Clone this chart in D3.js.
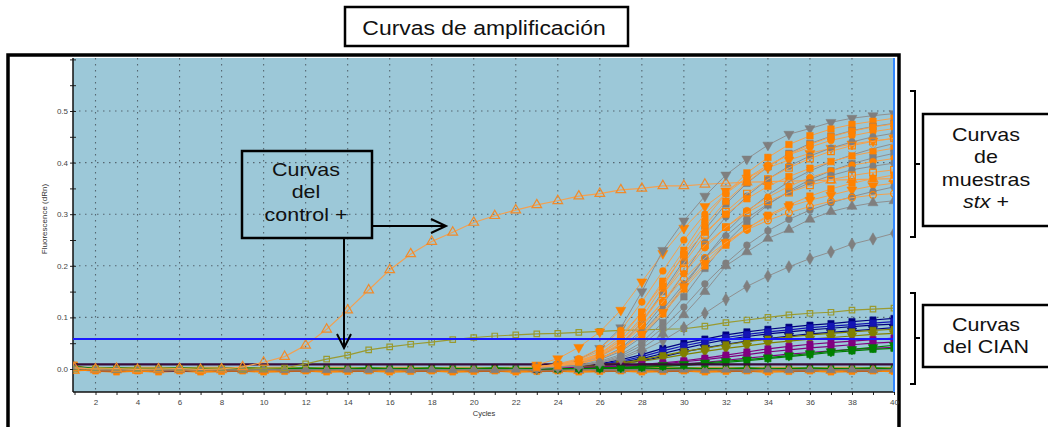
<!DOCTYPE html>
<html>
<head>
<meta charset="utf-8">
<script src="https://cdn.jsdelivr.net/npm/d3@7"></script>
<style>
  body { margin: 0; background: #fff; }
  svg { display: block; font-family: Arial, "Liberation Sans", sans-serif; }
</style>
</head>
<body>
<svg id="chart" width="1048" height="427"></svg>
<script>
// ---- data ----
const cycles = [1,2,3,4,5,6,7,8,9,10,11,12,13,14,15,16,17,18,19,20,
                21,22,23,24,25,26,27,28,29,30,31,32,33,34,35,36,37,38,39,40];
const riseCycles = [23,24,25,26,27,28,29,30,31,32,33,34,35,36,37,38,39,40];
const xTickLabels = [2,4,6,8,10,12,14,16,18,20,22,24,26,28,30,32,34,36,38,40];
const yTickValues = [0,0.05,0.1,0.15,0.2,0.25,0.3,0.35,0.4,0.45,0.5,0.55,0.6];
const yTickLabels = [0,0.1,0.2,0.3,0.4,0.5];
const thresholdValue = 0.058;

// positive control (full run)
const controlTriangle = [0.002,0.000,0.001,-0.001,0.000,0.001,-0.001,0.000,0.004,0.013,
                         0.024,0.046,0.077,0.114,0.153,0.192,0.223,0.247,0.265,0.284,
                         0.297,0.308,0.318,0.326,0.335,0.340,0.347,0.350,0.355,0.355,
                         0.358,0.360,0.362,0.363,0.364,0.365,0.366,0.367,0.368,0.369];
const controlSquare = [0.000,0.001,0.000,0.001,0.000,0.001,0.000,0.001,0.000,0.001,
                       0.002,0.010,0.019,0.027,0.037,0.043,0.048,0.052,0.057,0.061,
                       0.064,0.066,0.068,0.069,0.071,0.073,0.075,0.076,0.077,0.078,
                       0.083,0.090,0.095,0.100,0.105,0.108,0.110,0.114,0.116,0.118];

// stx+ sample curves, cycles 23..40
const stxCurves = [
  [0.008,0.020,0.042,0.072,0.114,0.169,0.224,0.273,0.315,0.345,0.370,0.390,0.405,0.418,0.428,0.436,0.442,0.447],
  [0.004,0.008,0.018,0.040,0.080,0.150,0.230,0.287,0.335,0.376,0.407,0.434,0.455,0.466,0.478,0.486,0.491,0.495],
  [0.004,0.008,0.016,0.030,0.060,0.110,0.170,0.230,0.290,0.340,0.380,0.410,0.435,0.452,0.465,0.474,0.480,0.486],
  [0.003,0.006,0.012,0.024,0.048,0.090,0.150,0.210,0.270,0.320,0.360,0.392,0.418,0.437,0.451,0.462,0.470,0.476],
  [0.004,0.010,0.020,0.040,0.075,0.130,0.190,0.250,0.300,0.340,0.370,0.395,0.415,0.430,0.443,0.452,0.460,0.466],
  [0.003,0.006,0.011,0.020,0.040,0.075,0.125,0.185,0.245,0.295,0.335,0.368,0.393,0.413,0.428,0.440,0.450,0.457],
  [0.003,0.007,0.014,0.027,0.050,0.090,0.145,0.205,0.260,0.305,0.340,0.368,0.390,0.408,0.422,0.433,0.441,0.447],
  [0.002,0.005,0.010,0.018,0.034,0.062,0.105,0.160,0.215,0.265,0.305,0.337,0.363,0.384,0.401,0.415,0.427,0.437],
  [0.004,0.009,0.018,0.035,0.065,0.110,0.165,0.220,0.265,0.300,0.330,0.354,0.373,0.389,0.402,0.413,0.421,0.428],
  [0.002,0.004,0.008,0.015,0.028,0.052,0.090,0.140,0.195,0.245,0.285,0.318,0.345,0.367,0.384,0.398,0.409,0.418],
  [0.003,0.006,0.012,0.024,0.045,0.082,0.130,0.185,0.235,0.275,0.307,0.333,0.354,0.371,0.384,0.395,0.402,0.408],
  [0.002,0.005,0.010,0.020,0.038,0.070,0.115,0.165,0.215,0.258,0.292,0.320,0.343,0.361,0.375,0.386,0.393,0.399],
  [0.003,0.007,0.015,0.030,0.055,0.095,0.145,0.195,0.240,0.275,0.303,0.325,0.342,0.356,0.367,0.375,0.381,0.386],
  [0.002,0.005,0.010,0.020,0.037,0.066,0.107,0.155,0.200,0.240,0.272,0.298,0.318,0.335,0.349,0.360,0.369,0.376],
  [0.002,0.005,0.010,0.020,0.038,0.068,0.110,0.160,0.205,0.245,0.273,0.295,0.315,0.327,0.337,0.347,0.355,0.360],
  [0.002,0.004,0.007,0.013,0.025,0.046,0.080,0.120,0.165,0.205,0.240,0.268,0.290,0.308,0.322,0.334,0.344,0.353],
  [0.003,0.006,0.013,0.026,0.048,0.085,0.130,0.175,0.215,0.245,0.270,0.288,0.303,0.315,0.325,0.332,0.337,0.340],
  [0.002,0.004,0.007,0.012,0.022,0.040,0.068,0.105,0.150,0.200,0.227,0.253,0.270,0.290,0.305,0.315,0.322,0.326],
  [0.001,0.003,0.006,0.012,0.020,0.035,0.055,0.080,0.108,0.135,0.160,0.180,0.198,0.214,0.227,0.242,0.252,0.263],
  [0.003,0.006,0.013,0.028,0.055,0.100,0.160,0.222,0.278,0.325,0.362,0.392,0.416,0.435,0.450,0.461,0.469,0.475]
];

// CIAN (internal control) curves, cycles 23..40
const cianCurves = [
  [0.003,0.004,0.006,0.010,0.018,0.028,0.040,0.050,0.058,0.066,0.072,0.077,0.081,0.085,0.088,0.092,0.095,0.098],
  [0.002,0.003,0.005,0.008,0.013,0.020,0.030,0.040,0.049,0.057,0.063,0.068,0.072,0.076,0.079,0.082,0.085,0.087],
  [0.002,0.003,0.004,0.006,0.010,0.016,0.024,0.033,0.041,0.048,0.054,0.059,0.064,0.068,0.071,0.074,0.077,0.080],
  [0.002,0.003,0.005,0.009,0.015,0.024,0.035,0.045,0.053,0.061,0.067,0.072,0.076,0.080,0.083,0.086,0.089,0.092],
  [0.002,0.003,0.005,0.008,0.012,0.018,0.026,0.034,0.040,0.047,0.053,0.058,0.062,0.066,0.069,0.072,0.075,0.077],
  [0.001,0.002,0.004,0.006,0.010,0.015,0.021,0.028,0.034,0.040,0.045,0.050,0.054,0.058,0.061,0.064,0.067,0.069],
  [0.000,0.001,0.002,0.003,0.005,0.007,0.010,0.014,0.018,0.023,0.028,0.033,0.037,0.041,0.044,0.047,0.050,0.052],
  [0.001,0.002,0.003,0.004,0.006,0.009,0.012,0.016,0.021,0.027,0.033,0.039,0.044,0.048,0.051,0.054,0.057,0.060],
  [0.000,0.001,0.001,0.002,0.003,0.005,0.007,0.010,0.013,0.017,0.021,0.025,0.029,0.032,0.035,0.038,0.040,0.042],
  [0.000,0.001,0.001,0.002,0.003,0.005,0.007,0.009,0.012,0.015,0.018,0.022,0.026,0.030,0.034,0.038,0.042,0.046],
  [0.000,0.000,0.001,0.001,0.002,0.003,0.005,0.007,0.010,0.013,0.016,0.020,0.024,0.028,0.032,0.035,0.038,0.040]
];

// flat (negative / baseline) curves, full run
const flatCurves = [
  [0.008,-0.004,-0.006,-0.004,-0.006,-0.004,-0.006,-0.005,-0.004,-0.006,-0.005,-0.004,-0.006,-0.005,-0.004,-0.006,-0.005,-0.004,-0.006,-0.005,
   -0.004,-0.006,-0.005,-0.004,-0.006,-0.005,-0.004,-0.006,-0.005,-0.004,-0.006,-0.005,-0.004,-0.006,-0.005,-0.004,-0.006,-0.005,-0.004,-0.005],
  [-0.002,-0.003,-0.003,-0.002,-0.003,-0.004,-0.002,-0.003,-0.003,-0.002,-0.003,-0.003,-0.002,-0.003,-0.003,-0.002,-0.003,-0.003,-0.002,-0.003,
   -0.003,-0.002,-0.003,-0.003,-0.002,-0.003,-0.003,-0.002,-0.003,-0.003,-0.002,-0.003,-0.003,-0.002,-0.003,-0.003,-0.002,-0.003,-0.003,-0.002],
  [0.004,0.000,0.001,0.000,-0.001,0.000,0.001,0.000,-0.001,0.000,0.001,0.000,-0.001,0.000,0.001,0.000,-0.001,0.000,0.001,0.000,
   -0.001,0.000,0.001,0.000,-0.001,0.000,0.001,0.000,-0.001,0.000,0.001,0.000,-0.001,0.000,0.001,0.000,-0.001,0.000,0.001,0.000],
  [0.003,0.003,0.002,0.003,0.003,0.002,0.003,0.003,0.002,0.003,0.003,0.002,0.003,0.003,0.002,0.003,0.003,0.002,0.003,0.003,
   0.002,0.003,0.003,0.002,0.003,0.003,0.002,0.003,0.003,0.002,0.003,0.003,0.002,0.003,0.003,0.002,0.003,0.003,0.002,0.003],
  [0.005,0.001,0.002,0.001,0.001,0.002,0.001,0.001,0.002,0.001,0.001,0.002,0.001,0.001,0.002,0.001,0.001,0.002,0.001,0.001,
   0.002,0.001,0.001,0.002,0.001,0.001,0.002,0.001,0.001,0.002,0.001,0.001,0.002,0.001,0.001,0.002,0.001,0.001,0.002,0.001],
  [-0.003,-0.002,-0.002,-0.003,-0.002,-0.002,-0.003,-0.002,-0.002,-0.003,-0.002,-0.002,-0.003,-0.002,-0.002,-0.003,-0.002,-0.002,-0.003,-0.002,
   -0.002,-0.003,-0.002,-0.002,-0.003,-0.002,-0.002,-0.003,-0.002,-0.002,-0.003,-0.002,-0.002,-0.003,-0.002,-0.002,-0.003,-0.002,-0.002,-0.003],
  [0.004,-0.001,-0.002,-0.001,-0.002,-0.001,-0.002,-0.001,-0.002,-0.001,-0.002,-0.001,-0.002,-0.001,-0.002,-0.001,-0.002,-0.001,-0.002,-0.001,
   -0.002,-0.001,-0.002,-0.001,-0.002,-0.001,-0.002,-0.001,-0.002,-0.001,-0.002,-0.001,-0.002,-0.001,-0.002,-0.001,-0.002,-0.001,-0.002,-0.001]
];
const baselineDark = [0.009,0.009,0.009,0.009,0.009,0.009,0.009,0.009,0.009,0.009,0.009,0.009,0.009,0.009,0.009,0.009,0.009,0.009,0.009,0.009,
                      0.009,0.009,0.009,0.009,0.009,0.009,0.009,0.009,0.009,0.009,0.009,0.009,0.009,0.009,0.009,0.009,0.009,0.009,0.009,0.009];

// ---- styles ----
const C = {
  orange: "#ff8200", orangeLine: "#f5a04c", gray: "#7f7f7f", grayLine: "#8f8f8f",
  navy: "#000080", blue: "#1414b4", olive: "#808000", oliveLight: "#9a9a30",
  purple: "#800080", green: "#008000"
};
const stxStyles = [
  ["orange","down",false],["gray","down",false],["orange","square",false],["gray","square",false],
  ["orange","circle",false],["gray","circle",false],["orange","square",true],["gray","cross",false],
  ["orange","square",false],["gray","square",false],["orange","circle",false],["gray","circle",false],
  ["orange","square",true],["orange","square",false],["orange","down",false],["gray","circle",false],
  ["orange","circle",true],["gray","triangle",false],["gray","diamond",false],["orange","square",false]
];
const cianStyles = [
  ["navy","square"],["navy","square"],["navy","down"],["blue","square"],["olive","square"],["olive","down"],
  ["purple","square"],["purple","square"],["purple","square"],["green","down"],["green","square"]
];
const flatStyles = [
  ["orange","square",false],["navy",null,false],["purple",null,false],["orangeLine",null,false],
  ["green","square",false],["orange","triangle",true],["gray","triangle",false]
];

// ---- layout ----
const svg = d3.select("#chart");
const plot = { left: 73, right: 895, top: 58, bottom: 392 };
const xScale = d3.scaleLinear().domain([1, 40]).range([74.5, 894]);
const yScale = d3.scaleLinear().domain([0, 0.5]).range([369, 111]);

// outer frame
svg.append("rect").attr("x", 8).attr("y", 55).attr("width", 891).attr("height", 400)
  .attr("fill", "#fff").attr("stroke", "#000").attr("stroke-width", 3.5);

// plot background
svg.append("rect").attr("x", plot.left).attr("y", plot.top)
  .attr("width", plot.right - plot.left).attr("height", plot.bottom - plot.top)
  .attr("fill", "#9cc8d8");

svg.append("clipPath").attr("id", "clip").append("rect")
  .attr("x", plot.left).attr("y", plot.top)
  .attr("width", plot.right - plot.left).attr("height", plot.bottom - plot.top);

// grid
const grid = svg.append("g").attr("stroke", "#556670").attr("stroke-width", 1.1)
  .attr("stroke-dasharray", "1.5,4.5");
grid.selectAll(".gx").data(xTickLabels.filter(d => d < 40)).join("line")
  .attr("x1", d => xScale(d)).attr("x2", d => xScale(d))
  .attr("y1", plot.top).attr("y2", plot.bottom);
grid.selectAll(".gy").data(yTickLabels).join("line")
  .attr("x1", plot.left).attr("x2", plot.right)
  .attr("y1", d => yScale(d)).attr("y2", d => yScale(d));

// axes
const yAxis = svg.append("g").attr("transform", `translate(${plot.left},0)`)
  .call(d3.axisLeft(yScale).tickValues(yTickValues).tickSizeInner(3).tickSizeOuter(0)
    .tickFormat(d => yTickLabels.some(v => Math.abs(v - d) < 1e-9) ? d.toFixed(1) : ""));
yAxis.select(".domain").remove();
yAxis.selectAll(".tick line").attr("x1", -3).attr("x2", 3).attr("stroke", "#222");
yAxis.selectAll(".tick text").attr("font-size", 8).attr("fill", "#444").attr("x", -5);

const xAxis = svg.append("g").attr("transform", `translate(0,${plot.bottom})`)
  .call(d3.axisBottom(xScale).tickValues(cycles).tickSizeInner(3).tickSizeOuter(0)
    .tickFormat(d => xTickLabels.includes(d) ? d : ""));
xAxis.select(".domain").remove();
xAxis.selectAll(".tick line").attr("stroke", "#222");
xAxis.selectAll(".tick text").attr("font-size", 8).attr("fill", "#444").attr("dy", "0.9em");

svg.append("line").attr("x1", plot.left).attr("x2", plot.left)
  .attr("y1", plot.top).attr("y2", plot.bottom).attr("stroke", "#111").attr("stroke-width", 1.5);
svg.append("line").attr("x1", plot.left).attr("x2", plot.right)
  .attr("y1", plot.bottom).attr("y2", plot.bottom).attr("stroke", "#111").attr("stroke-width", 1.5);

svg.append("text").attr("transform", "translate(47,219) rotate(-90)")
  .attr("text-anchor", "middle").attr("font-size", 8).attr("fill", "#333")
  .text("Fluorescence (dRn)");
svg.append("text").attr("x", 484).attr("y", 416).attr("text-anchor", "middle")
  .attr("font-size", 7.5).attr("fill", "#333").text("Cycles");

// ---- curves ----
const layer = svg.append("g").attr("clip-path", "url(#clip)");
const line = d3.line().x(d => xScale(d[0])).y(d => yScale(d[1]));
const symbolTypes = {
  square: d3.symbolSquare, circle: d3.symbolCircle, triangle: d3.symbolTriangle,
  down: d3.symbolTriangle, diamond: d3.symbolDiamond, cross: d3.symbolTimes || d3.symbolCross
};

function drawSeries(xs, values, color, lineColor, shape, open, size, width) {
  const pts = xs.map((c, i) => [c, values[i]]);
  const g = layer.append("g");
  g.append("path").attr("d", line(pts)).attr("fill", "none")
    .attr("stroke", lineColor).attr("stroke-width", width || 1);
  if (!shape) return;
  const sym = d3.symbol().type(symbolTypes[shape]).size(size || 40);
  g.selectAll("path.m").data(pts).join("path").attr("class", "m")
    .attr("transform", d => `translate(${xScale(d[0])},${yScale(d[1])})` + (shape === "down" ? " rotate(180)" : ""))
    .attr("d", sym())
    .attr("fill", open ? "none" : color)
    .attr("stroke", color).attr("stroke-width", open ? 1.2 : 0.5);
}

flatCurves.forEach((vals, i) => {
  const [c, shape, open] = flatStyles[i];
  drawSeries(cycles, vals, C[c], C[c], shape, open, 36, 1.5);
});

cianCurves.forEach((vals, i) => {
  const [c, shape] = cianStyles[i];
  drawSeries(riseCycles, vals, C[c], C[c], shape, false, 40, 1.2);
});

drawSeries(cycles, baselineDark, "#3a0a3a", "#3a0a3a", null, false, 0, 2.2);

drawSeries(cycles, controlSquare, C.oliveLight, C.oliveLight, "square", true, 30, 1.2);
drawSeries(cycles, controlTriangle, "#f08a2a", "#f3a050", "triangle", true, 40, 1.2);

stxCurves.forEach((vals, i) => {
  const [c, shape, open] = stxStyles[i];
  const lc = c === "orange" ? C.orangeLine : C.grayLine;
  drawSeries(riseCycles, vals, C[c], lc, shape, open, shape === "circle" ? 36 : 44, 1);
});

// threshold and last-cycle marker
svg.append("line").attr("x1", plot.left).attr("x2", plot.right)
  .attr("y1", yScale(thresholdValue)).attr("y2", yScale(thresholdValue))
  .attr("stroke", "#1a1aff").attr("stroke-width", 2);
svg.append("line").attr("x1", xScale(40)).attr("x2", xScale(40))
  .attr("y1", plot.top).attr("y2", plot.bottom)
  .attr("stroke", "#3388ff").attr("stroke-width", 2);

// ---- annotations ----
function label(x, y, lines, size) {
  const t = svg.append("text").attr("transform", `translate(${x},${y}) scale(1.13,1)`)
    .attr("text-anchor", "middle").attr("font-size", size).attr("fill", "#111");
  lines.forEach((l, i) => {
    const ts = t.append("tspan").attr("x", 0).attr("y", i * 22.4);
    if (Array.isArray(l)) {
      ts.append("tspan").attr("font-style", "italic").text(l[0]);
      ts.append("tspan").text(l[1]);
    } else ts.text(l);
  });
}

svg.append("rect").attr("x", 345).attr("y", 7).attr("width", 283).attr("height", 39)
  .attr("fill", "#fff").attr("stroke", "#000").attr("stroke-width", 2.5);
label(484, 35, ["Curvas de amplificación"], 20.3);

svg.append("rect").attr("x", 242).attr("y", 151).attr("width", 130).attr("height", 87)
  .attr("fill", "none").attr("stroke", "#000").attr("stroke-width", 2.5);
label(306, 176, ["Curvas", "del", "control +"], 19);

const arrows = svg.append("g").attr("stroke", "#000").attr("stroke-width", 2).attr("fill", "none");
arrows.append("path").attr("d", "M372,226 H446 M431,219 L446,226 L431,233");
arrows.append("path").attr("d", "M344,238 V348 M337,334 L344,348 L351,334");

const brackets = svg.append("g").attr("stroke", "#000").attr("stroke-width", 2).attr("fill", "none");
brackets.append("path").attr("d", "M910,91 H915 V237 H910 M915,164 H920");
brackets.append("path").attr("d", "M910,293 H915 V384 H910 M915,338 H920");

svg.append("rect").attr("x", 923).attr("y", 114).attr("width", 130).attr("height", 112)
  .attr("fill", "#fff").attr("stroke", "#000").attr("stroke-width", 2.5);
label(986, 141, ["Curvas", "de", "muestras", ["stx", " +"]], 19);

svg.append("rect").attr("x", 923).attr("y", 305).attr("width", 130).attr("height", 62)
  .attr("fill", "#fff").attr("stroke", "#000").attr("stroke-width", 2.5);
label(986, 331, ["Curvas", "del CIAN"], 19);
</script>
</body>
</html>
